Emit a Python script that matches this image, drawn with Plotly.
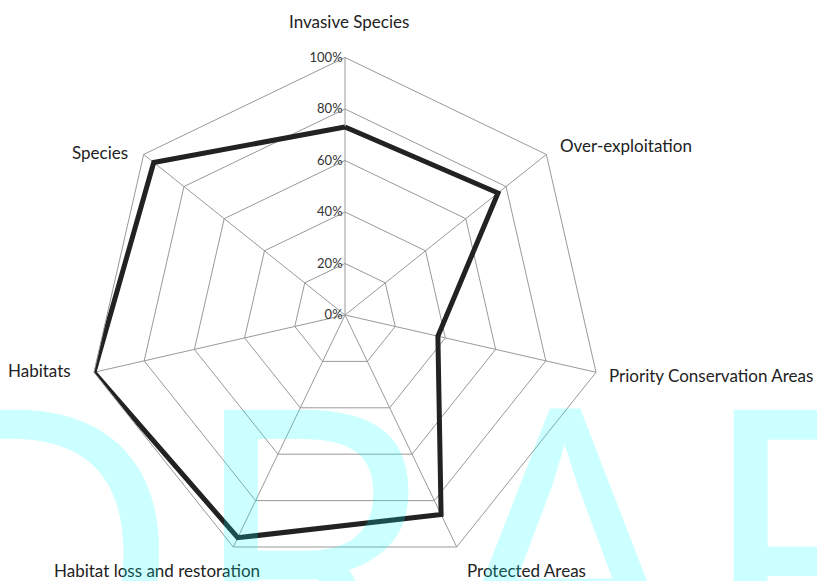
import plotly.graph_objects as go

# Indicator categories around the radar, clockwise from the top
categories = [
    "Invasive Species",
    "Over-exploitation",
    "Priority Conservation Areas",
    "Protected Areas",
    "Habitat loss and restoration",
    "Habitats",
    "Species",
]
# Score for each category (percent)
scores = [73, 76, 37, 86, 96, 100, 95]
radial_ticks = [0, 20, 40, 60, 80, 100]
radial_labels = ["0%", "20%", "40%", "60%", "80%", "100%"]

W, H = 817, 581
cx, cy, R = 345, 315, 257.5

label_font = "Lato, Roboto, sans-serif"

# Category label placement (pixel x, pixel y of text middle, horizontal anchor)
label_place = {
    "Invasive Species": (349, 22, "center"),
    "Over-exploitation": (559, 146, "left"),
    "Priority Conservation Areas": (814, 375, "right"),
    "Protected Areas": (466, 570, "left"),
    "Habitat loss and restoration": (157, 570, "center"),
    "Habitats": (72, 371, "right"),
    "Species": (129, 152, "right"),
}


def px(x):
    return x / W


def py(y):
    return (H - y) / H


fig = go.Figure()
fig.add_trace(
    go.Scatterpolar(
        r=scores + scores[:1],
        theta=categories + categories[:1],
        mode="lines",
        line=dict(color="#222222", width=5),
        hoverinfo="skip",
        showlegend=False,
    )
)

annotations = []
for name in categories:
    x, y, anchor = label_place[name]
    annotations.append(
        dict(
            text=name,
            xref="paper",
            yref="paper",
            x=px(x),
            y=py(y),
            xanchor=anchor,
            yanchor="middle",
            showarrow=False,
            borderpad=0,
            font=dict(size=17, color="#222222", family=label_font),
        )
    )

# Large translucent watermark over the chart
annotations.append(
    dict(
        text="DRAFT",
        xref="paper",
        yref="paper",
        x=px(-113),
        y=py(264),
        xanchor="left",
        yanchor="top",
        showarrow=False,
        borderpad=0,
        font=dict(size=408, color="rgba(0,255,255,0.2)",
                  family="Open Sans, sans-serif"),
    )
)

fig.update_layout(
    width=W,
    height=H,
    margin=dict(l=0, r=0, t=0, b=0),
    paper_bgcolor="white",
    plot_bgcolor="white",
    font=dict(family=label_font, color="#222222"),
    polar=dict(
        bgcolor="white",
        domain=dict(
            x=[px(cx - R), px(cx + R)],
            y=[py(cy + R), py(cy - R)],
        ),
        gridshape="linear",
        angularaxis=dict(
            rotation=90,
            direction="clockwise",
            showline=True,
            linecolor="#999999",
            linewidth=1,
            gridcolor="#999999",
            gridwidth=1,
            ticks="",
            showticklabels=False,
        ),
        radialaxis=dict(
            range=[0, 100],
            tickvals=radial_ticks,
            ticktext=radial_labels,
            angle=90,
            side="counterclockwise",
            tickangle=90,
            showline=False,
            ticks="",
            gridcolor="#999999",
            gridwidth=1,
            tickfont=dict(size=13, color="#333333", family=label_font),
        ),
    ),
    annotations=annotations,
)

fig.write_html("out.html")
